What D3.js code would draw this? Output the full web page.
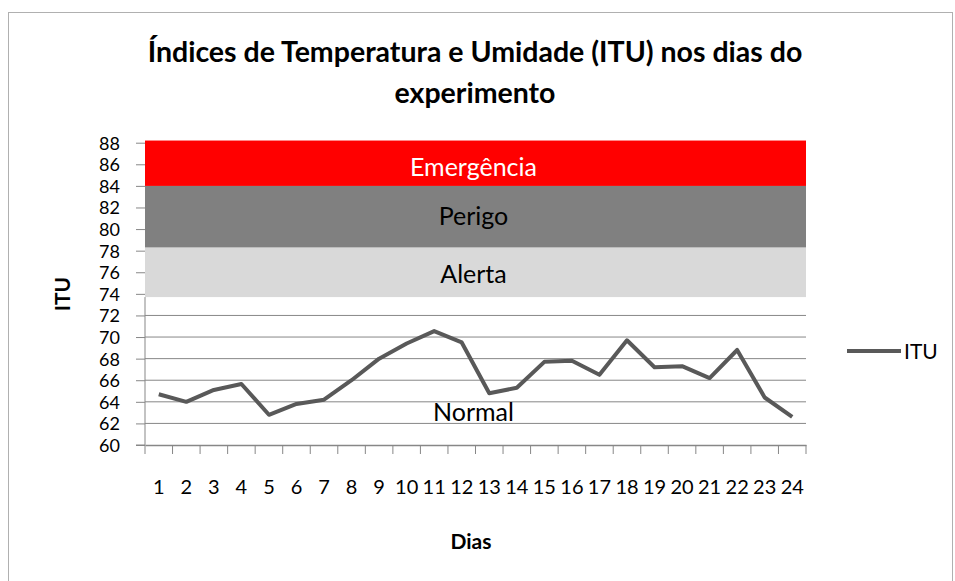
<!DOCTYPE html>
<html><head><meta charset="utf-8">
<script src="https://cdn.jsdelivr.net/npm/d3@7"></script>
<style>body{margin:0;background:#fff}svg{display:block}text{font-family:Lato,"Open Sans",sans-serif}</style>
</head><body><svg id="c" width="955" height="581"></svg>
<script>
const days = ["1","2","3","4","5","6","7","8","9","10","11","12","13","14","15","16","17","18","19","20","21","22","23","24"];
const itu = [64.7,64.0,65.1,65.65,62.8,63.8,64.2,66.0,68.0,69.4,70.55,69.5,64.8,65.3,67.7,67.8,66.5,69.7,67.2,67.3,66.2,68.8,64.4,62.6];
const yTicks = [60,62,64,66,68,70,72,74,76,78,80,82,84,86,88];
const zoneNames = ["Normal","Alerta","Perigo","Emergência"];
const zoneLow = [60,73.7,78.3,84];
const zoneHigh = [73.7,78.3,84,88.2];
const zoneColors = [null,"#d9d9d9","#808080","#ff0000"];
const zoneText = ["#000","#000","#000","#fff"];
const zoneLabelAt = [62.8,75.6,81.0,85.5];

const svg = d3.select("#c");
const L=145, R=806, T=142.7, B=445;
const x = d3.scaleBand().domain(days).range([L,R]);
const y = d3.scaleLinear().domain([60,88]).range([B,T]);

svg.append("rect").attr("x",8.5).attr("y",12.5).attr("width",944).attr("height",600)
  .attr("fill","none").attr("stroke","#b0b0b0");

// gridlines
svg.append("g").selectAll("line").data(yTicks.filter(v=>v>60)).join("line")
  .attr("x1",L).attr("x2",R).attr("y1",d=>y(d)).attr("y2",d=>y(d))
  .attr("stroke","#878787").attr("stroke-width",1);

// zone bands
zoneNames.forEach((n,i)=>{
  if(zoneColors[i]) svg.append("rect").attr("x",L).attr("width",R-L)
    .attr("y",y(zoneHigh[i])).attr("height",y(zoneLow[i])-y(zoneHigh[i])).attr("fill",zoneColors[i]);
});

// y axis
const ya = svg.append("g").attr("transform",`translate(${L},0)`)
  .call(d3.axisLeft(y).tickValues(yTicks).tickSize(9).tickPadding(16));
ya.select(".domain").attr("stroke","#878787").attr("d",`M-9,${B}H0V${y(zoneLow[1])}`);
ya.selectAll(".tick line").attr("stroke","#878787");
ya.selectAll("text").attr("font-size",18).attr("fill","#000").attr("font-family","Lato,sans-serif").attr("dy","0.36em");

// x axis
const xa = svg.append("g").attr("transform",`translate(0,${B})`)
  .call(d3.axisBottom(x).tickSize(0).tickPadding(35));
xa.select(".domain").attr("stroke","#878787").attr("stroke-width",1.5);
xa.selectAll("text").attr("font-size",20).attr("fill","#000").attr("font-family","Lato,sans-serif");
const bounds = days.map((d,i)=>x(d)).concat([R]);
svg.append("g").selectAll("line").data(bounds).join("line")
  .attr("x1",d=>d).attr("x2",d=>d).attr("y1",B).attr("y2",B+9).attr("stroke","#878787");

// zone labels
zoneNames.forEach((n,i)=>{
  svg.append("text").attr("x",(L+R)/2 - 2).attr("y",y(zoneLabelAt[i])).attr("text-anchor","middle")
    .attr("dominant-baseline","middle").attr("font-size",25).attr("fill",zoneText[i]).text(n);
});

// line
const line = d3.line().x((d,i)=>x(days[i])+x.bandwidth()/2).y(d=>y(d));
svg.append("path").datum(itu).attr("d",line).attr("fill","none").attr("stroke","#595959")
  .attr("stroke-width",4).attr("stroke-linejoin","round");

// title
const t = svg.append("text").attr("text-anchor","middle").attr("font-size",28.5).attr("font-weight","bold");
t.append("tspan").attr("x",475).attr("y",62).text("Índices de Temperatura e Umidade (ITU) nos dias do");
t.append("tspan").attr("x",475).attr("y",103).text("experimento");

// axis titles
svg.append("text").attr("x",471).attr("y",549).attr("text-anchor","middle").attr("font-size",21).attr("font-weight","bold").text("Dias");
svg.append("text").attr("transform","translate(70,294) rotate(-90)").attr("text-anchor","middle").attr("font-size",21).attr("font-weight","bold").text("ITU");

// legend
svg.append("line").attr("x1",847).attr("x2",901).attr("y1",351).attr("y2",351).attr("stroke","#595959").attr("stroke-width",4);
svg.append("text").attr("x",904).attr("y",359).attr("font-size",21).text("ITU");
</script></body></html>
